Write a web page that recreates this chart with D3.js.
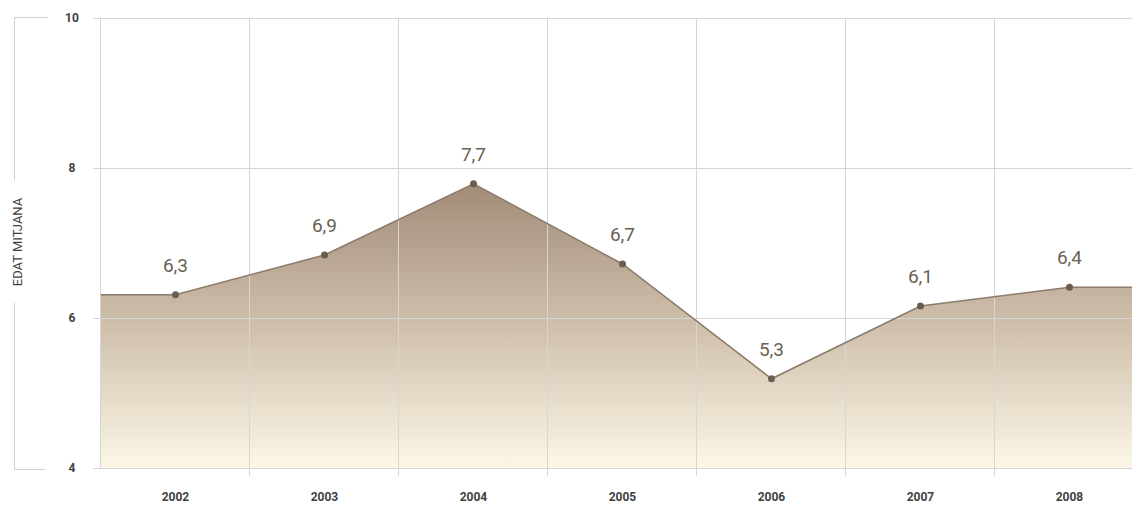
<!DOCTYPE html>
<html>
<head>
<meta charset="utf-8">
<script src="https://cdn.jsdelivr.net/npm/d3@7"></script>
<style>
    body { margin: 0; background: #fff; }
    svg { display: block; font-family: "Roboto", "DejaVu Sans", sans-serif; }
</style>
</head>
<body>
<svg></svg>
<script>
const
    years = ['2002', '2003', '2004', '2005', '2006', '2007', '2008'],
    values = [6.31, 6.84, 7.79, 6.72, 5.19, 6.16, 6.41],
    valueLabels = ['6,3', '6,9', '7,7', '6,7', '5,3', '6,1', '6,4'],
    yTicks = [4, 6, 8, 10],
    axisTitle = 'EDAT MITJANA'

const
    width = 1132,
    height = 505,
    margin = { top: 18, right: 0, bottom: 37, left: 101 },
    bandStep = 149

const svg = d3.select('svg')
    .attr('width', width)
    .attr('height', height)
    .attr('viewBox', [0, 0, width, height])

const x = d3.scaleBand()
    .domain(years)
    .range([margin.left, margin.left + bandStep * years.length])
    .padding(0)

const y = d3.scaleLinear()
    .domain([4, 10])
    .range([height - margin.bottom, margin.top])

const defs = svg.append('defs')

const grad = defs.append('linearGradient')
    .attr('id', 'fill')
    .attr('gradientUnits', 'userSpaceOnUse')
    .attr('x1', 0).attr('x2', 0)
    .attr('y1', y(d3.max(values))).attr('y2', y(4))
grad.append('stop').attr('offset', '0%').attr('stop-color', '#a28c78')
grad.append('stop').attr('offset', '55%').attr('stop-color', '#d3c5b1')
grad.append('stop').attr('offset', '100%').attr('stop-color', '#fcf7e6')

// area, running flat to both edges
const pts = years.map((d, i) => [x(d) + x.bandwidth() / 2, y(values[i])])
const areaPts = [[margin.left, y(values[0])], ...pts, [width, y(values[values.length - 1])]]

svg.append('path')
    .datum(areaPts)
    .attr('fill', 'url(#fill)')
    .attr('d', d3.area().x(d => d[0]).y0(y(4)).y1(d => d[1]))

// grid
const grid = svg.append('g').attr('stroke', '#d6d6d6').attr('stroke-width', 1)

grid.selectAll('.h')
    .data(yTicks)
    .join('line')
    .attr('x1', margin.left - 8).attr('x2', width)
    .attr('y1', d => y(d) + 0.5).attr('y2', d => y(d) + 0.5)

const edges = years.map(d => x(d))
grid.selectAll('.v')
    .data(edges)
    .join('line')
    .attr('x1', d => Math.round(d) - 0.5).attr('x2', d => Math.round(d) - 0.5)
    .attr('y1', margin.top).attr('y2', (d, i) => i === 0 ? y(4) : y(4) + 8)

// line + points
svg.append('path')
    .datum(areaPts)
    .attr('fill', 'none')
    .attr('stroke', '#8c7b6b')
    .attr('stroke-width', 1.5)
    .attr('d', d3.line().x(d => d[0]).y(d => d[1]))

svg.append('g')
    .selectAll('circle')
    .data(pts)
    .join('circle')
    .attr('cx', d => d[0])
    .attr('cy', d => d[1])
    .attr('r', 3.5)
    .attr('fill', '#6b5d52')

svg.append('g')
    .selectAll('text')
    .data(pts)
    .join('text')
    .attr('x', d => d[0])
    .attr('y', d => d[1] - 23)
    .attr('text-anchor', 'middle')
    .attr('font-size', 19)
    .attr('fill', '#6b6151')
    .text((d, i) => valueLabels[i])

// y tick labels
svg.append('g')
    .selectAll('text')
    .data(yTicks)
    .join('text')
    .attr('x', 72)
    .attr('y', d => y(d) + 4)
    .attr('text-anchor', 'middle')
    .attr('font-size', 12)
    .attr('font-weight', 'bold')
    .attr('fill', '#3f3f3f')
    .text(d => d)

// x labels
svg.append('g')
    .selectAll('text')
    .data(years)
    .join('text')
    .attr('x', d => x(d) + x.bandwidth() / 2)
    .attr('y', 501)
    .attr('text-anchor', 'middle')
    .attr('font-size', 12)
    .attr('font-weight', 'bold')
    .attr('fill', '#3f3f3f')
    .text(d => d)

// bracket + axis title
const br = svg.append('g').attr('stroke', '#d0d0d0').attr('fill', 'none')
br.append('path').attr('d', `M48,${y(10) - 0.5}H14.5V180`)
br.append('path').attr('d', `M45,${y(4) + 1.5}H14.5V303`)

svg.append('text')
    .attr('transform', 'translate(22,242) rotate(-90)')
    .attr('text-anchor', 'middle')
    .attr('font-size', 13)
    .attr('fill', '#3f3f3f')
    .text(axisTitle)
</script>
</body>
</html>
